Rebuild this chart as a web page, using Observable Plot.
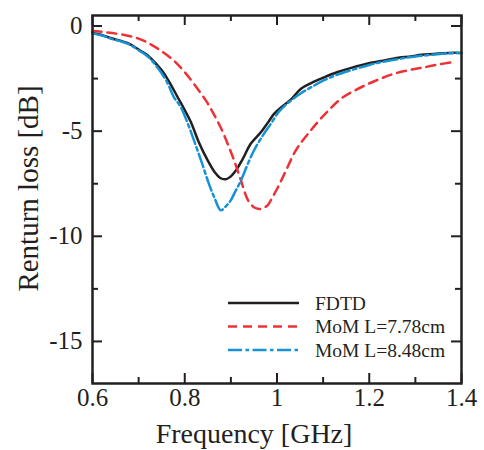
<!DOCTYPE html>
<html><head><meta charset="utf-8">
<script src="https://cdn.jsdelivr.net/npm/d3@7"></script>
<script src="https://cdn.jsdelivr.net/npm/@observablehq/plot@0.6"></script>
<style>body{margin:0;background:#fff}</style>
</head><body><div id="chart"></div>
<script>
// ---- data ----
const freqFDTD = [0.600,0.620,0.639,0.660,0.680,0.704,0.720,0.740,0.754,0.770,0.785,0.800,0.813,0.830,0.850,0.865,0.878,0.890,0.900,0.910,0.925,0.943,0.965,0.980,0.994,1.010,1.030,1.052,1.075,1.100,1.130,1.161,1.204,1.230,1.263,1.290,1.313,1.340,1.372,1.400];
const rlFDTD   = [-0.33,-0.42,-0.57,-0.70,-0.85,-1.18,-1.40,-1.85,-2.22,-2.80,-3.40,-4.00,-4.55,-5.50,-6.40,-6.95,-7.24,-7.28,-7.15,-6.90,-6.35,-5.60,-5.05,-4.60,-4.17,-3.85,-3.50,-2.98,-2.70,-2.46,-2.20,-1.99,-1.75,-1.65,-1.51,-1.45,-1.37,-1.33,-1.28,-1.28];

const freqMoM778 = [0.600,0.630,0.667,0.700,0.726,0.750,0.777,0.800,0.820,0.846,0.862,0.878,0.893,0.907,0.922,0.937,0.950,0.961,0.970,0.980,0.990,1.002,1.020,1.037,1.052,1.070,1.089,1.110,1.139,1.170,1.198,1.225,1.254,1.285,1.313,1.350,1.385];
const rlMoM778   = [-0.24,-0.30,-0.42,-0.60,-0.87,-1.20,-1.66,-2.20,-2.75,-3.55,-4.15,-4.83,-5.60,-6.39,-7.35,-8.28,-8.62,-8.70,-8.65,-8.52,-8.15,-7.67,-6.85,-6.06,-5.55,-5.05,-4.55,-4.05,-3.45,-3.05,-2.75,-2.50,-2.27,-2.10,-1.99,-1.83,-1.70];

const freqMoM848 = [0.600,0.620,0.640,0.660,0.680,0.700,0.720,0.740,0.760,0.777,0.790,0.805,0.820,0.837,0.852,0.865,0.878,0.890,0.900,0.910,0.922,0.935,0.950,0.968,0.987,1.005,1.030,1.052,1.075,1.100,1.130,1.161,1.200,1.230,1.263,1.300,1.340,1.370,1.400];
const rlMoM848   = [-0.35,-0.45,-0.60,-0.72,-0.88,-1.15,-1.45,-1.95,-2.60,-3.40,-3.80,-4.55,-5.44,-6.50,-7.48,-8.20,-8.76,-8.55,-8.28,-7.85,-7.34,-6.65,-5.92,-5.25,-4.64,-4.05,-3.55,-3.20,-2.90,-2.60,-2.32,-2.10,-1.85,-1.70,-1.57,-1.45,-1.36,-1.30,-1.28];

const seriesNames = ["FDTD", "MoM L=7.78cm", "MoM L=8.48cm"];
const xMajorTicks = [0.6, 0.8, 1, 1.2, 1.4];
const xMinorTicks = [0.7, 0.9, 1.1, 1.3];
const yMajorTicks = [0, -5, -10, -15];
const yMinorTicks = [-2.5, -7.5, -12.5];
const xTitle = "Frequency [GHz]";
const yTitle = "Renturn loss [dB]";

// ---- styles ----
const colors = ["#231f20", "#ed3237", "#1592d4"];
const dashes = [null, "9,6", "14,3.5,3.5,3.5"];
const ink = "#231f20";
const font = "'Liberation Serif', 'Times New Roman', serif";

const W = 484, H = 450, mL = 92, mR = 23, mT = 15, mB = 67;
const innerW = W - mL - mR, innerH = H - mT - mB;
const majorLen = 10, minorLen = 6;

const toRows = (fs, vs, s) => fs.map((f, i) => ({f, rl: vs[i], series: s}));
const series = [
  toRows(freqFDTD, rlFDTD, seriesNames[0]),
  toRows(freqMoM778, rlMoM778, seriesNames[1]),
  toRows(freqMoM848, rlMoM848, seriesNames[2])
];

const lineMarks = series.map((rows, i) => Plot.line(rows, {
  x: "f", y: "rl", stroke: colors[i], strokeWidth: 2.5,
  strokeDasharray: dashes[i] || undefined, strokeLinejoin: "round", curve: "catmull-rom"
}));

const tickStyle = {stroke: ink, strokeWidth: 2};

const chart = Plot.plot({
  width: W, height: H,
  marginLeft: mL, marginRight: mR, marginTop: mT, marginBottom: mB,
  style: {fontFamily: font, fontSize: "25px", color: ink, background: "#fff", overflow: "visible"},
  x: {domain: [0.6, 1.4]},
  y: {domain: [-17, 0.5]},
  marks: [
    // inward ticks on all four sides
    Plot.tickX(xMajorTicks, {x: d => d, insetTop: innerH - majorLen, ...tickStyle}),
    Plot.tickX(xMinorTicks, {x: d => d, insetTop: innerH - minorLen, ...tickStyle}),
    Plot.tickX(xMajorTicks, {x: d => d, insetBottom: innerH - majorLen, ...tickStyle}),
    Plot.tickX(xMinorTicks, {x: d => d, insetBottom: innerH - minorLen, ...tickStyle}),
    Plot.tickY(yMajorTicks, {y: d => d, insetRight: innerW - majorLen, ...tickStyle}),
    Plot.tickY(yMinorTicks, {y: d => d, insetRight: innerW - minorLen, ...tickStyle}),
    Plot.tickY(yMajorTicks, {y: d => d, insetLeft: innerW - majorLen, ...tickStyle}),
    Plot.tickY(yMinorTicks, {y: d => d, insetLeft: innerW - minorLen, ...tickStyle}),
    Plot.axisX({ticks: xMajorTicks, tickSize: 0, tickPadding: 5, tickFormat: d => String(d), label: null, fontSize: 25}),
    Plot.axisY({ticks: yMajorTicks, tickSize: 0, tickPadding: 10, tickFormat: d => String(d), label: null, fontSize: 25}),
    ...lineMarks,
    Plot.frame({stroke: ink, strokeWidth: 2.5}),
    Plot.text([xTitle], {text: d => d, frameAnchor: "bottom", dx: -23, dy: 51, textAnchor: "middle", lineAnchor: "middle", fontSize: 28, fill: ink}),
    Plot.text([yTitle], {text: d => d, frameAnchor: "left", rotate: -90, dx: -64, dy: -11, textAnchor: "middle", lineAnchor: "middle", fontSize: 29, fill: ink})
  ]
});

// ---- legend (inside the plot, lower right) ----
const svg = d3.select(chart);
const legX1 = 228, legX2 = 299, legTextX = 315, legY0 = 303, legDy = 23.5;
const leg = svg.append("g").attr("text-anchor", "start");
seriesNames.forEach((name, i) => {
  const y = legY0 + i * legDy;
  leg.append("line").attr("x1", legX1).attr("x2", legX2).attr("y1", y).attr("y2", y)
    .attr("stroke", colors[i]).attr("stroke-width", 2.5)
    .attr("stroke-dasharray", dashes[i]);
  leg.append("text").attr("x", legTextX).attr("y", y).attr("dy", "0.35em")
    .attr("text-anchor", "start")
    .attr("font-family", font).attr("font-size", 19.5).attr("fill", ink).text(name);
});

document.getElementById("chart").appendChild(chart);
</script>
</body></html>
